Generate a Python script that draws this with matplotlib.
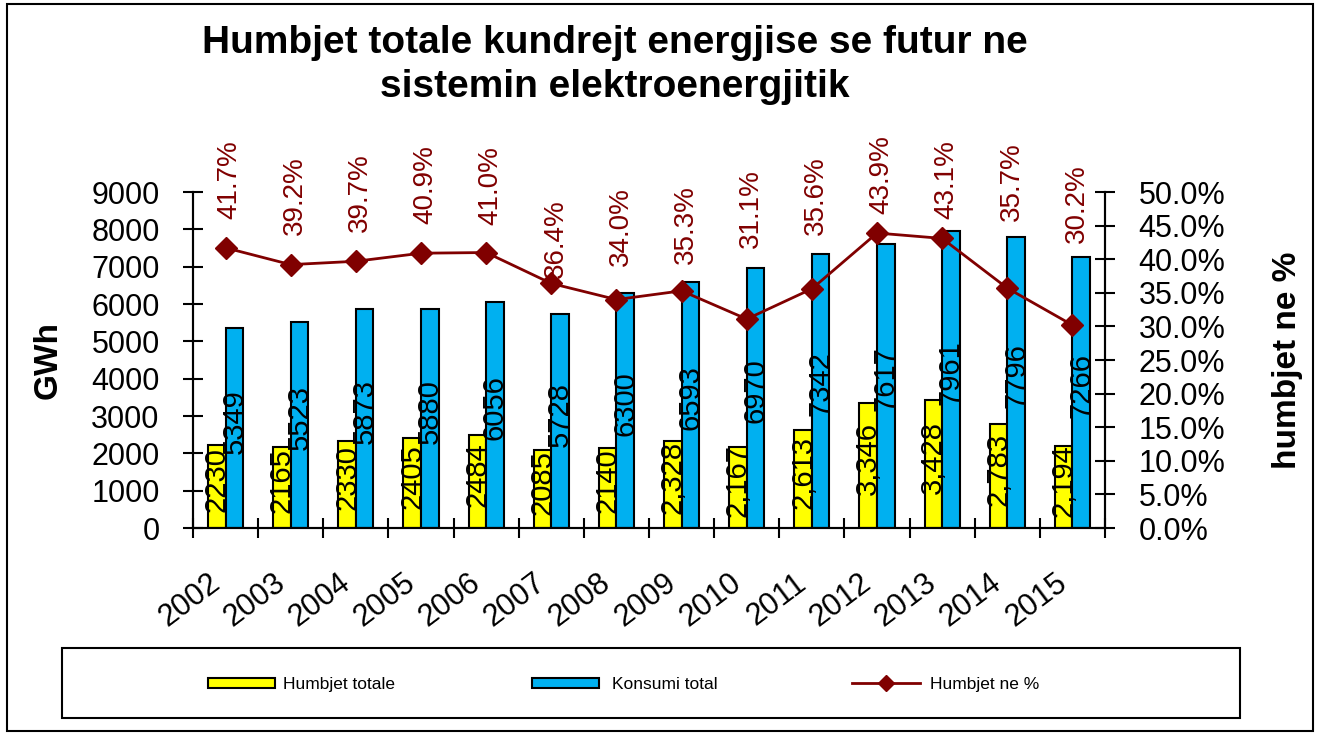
import numpy as np
import matplotlib
matplotlib.use("Agg")
import matplotlib.pyplot as plt
from matplotlib.patches import Rectangle
from matplotlib.lines import Line2D

plt.rcParams['font.family'] = ['Liberation Sans', 'DejaVu Sans']

# ---------- data ----------
years = ['2002', '2003', '2004', '2005', '2006', '2007', '2008',
         '2009', '2010', '2011', '2012', '2013', '2014', '2015']
humbjet = [2230, 2165, 2330, 2405, 2484, 2085, 2140,
           2328, 2167, 2613, 3346, 3428, 2783, 2194]
konsumi = [5349, 5523, 5873, 5880, 6056, 5728, 6300,
           6593, 6970, 7342, 7617, 7961, 7796, 7266]
humbjet_pct = [41.7, 39.2, 39.7, 40.9, 41.0, 36.4, 34.0,
               35.3, 31.1, 35.6, 43.9, 43.1, 35.7, 30.2]
# later years were entered with a thousands separator
humbjet_lbl = [f"{v}" if i < 7 else f"{v:,}" for i, v in enumerate(humbjet)]

# how far (points) each percentage label sits above its marker
pct_lift = [21, 21, 21, 21, 20, 4, 24, 19, 51, 39, 14, 14, 48, 59]

YELLOW = '#FFFF00'
BLUE = '#00B0F0'
RED = '#800000'

W, H = 1321, 735
fig = plt.figure(figsize=(W / 100, H / 100), dpi=100)
ax = fig.add_axes([0.1461, 0.2816, 0.6904, 0.4571])
ax2 = ax.twinx()

x = np.arange(len(years))
w = 0.27

ax.bar(x - w / 2, humbjet, w, color=YELLOW, edgecolor='black', linewidth=1.5, zorder=2)
ax.bar(x + w / 2, konsumi, w, color=BLUE, edgecolor='black', linewidth=1.5, zorder=2)

for xi, v, s in zip(x, humbjet, humbjet_lbl):
    ax.annotate(s, (xi - w / 2, v / 2), xytext=(0, 5), textcoords='offset points',
                rotation=90, ha='center', va='center', fontsize=21, zorder=3)
for xi, v in zip(x, konsumi):
    ax.annotate(f"{v}", (xi + w / 2, v / 2), xytext=(0, 5), textcoords='offset points',
                rotation=90, ha='center', va='center', fontsize=21, zorder=3)

ax.set_xlim(-0.5, len(years) - 0.5)
ax.set_ylim(0, 9000)
ax.set_yticks(np.arange(0, 9001, 1000))
# tick marks sit between the years, labels on the year centres
ax.set_xticks(np.arange(-0.5, len(years), 1), minor=False)
ax.set_xticklabels([])
ax.set_xticks(x, minor=True)
ax.set_xticklabels(years, minor=True, rotation=37, ha='right', va='bottom',
                   rotation_mode='anchor', fontsize=22)
ax.tick_params(axis='x', which='minor', length=0, pad=46)
ax.tick_params(axis='x', which='major', direction='inout', length=14, width=1.5)
ax.tick_params(axis='y', direction='inout', length=14, width=1.5, labelsize=22, pad=17)
ax.set_ylabel('GWh', fontsize=24, fontweight='bold', labelpad=20)

# ---------- percentage line ----------
ax2.plot(x, humbjet_pct, color=RED, lw=2, marker='D', markersize=11, zorder=4)
for xi, p, lift in zip(x, humbjet_pct, pct_lift):
    ax2.annotate(f"{p:.1f}%", (xi, p), xytext=(3, lift), textcoords='offset points',
                 rotation=90, ha='center', va='bottom', fontsize=20, color=RED,
                 annotation_clip=False)
ax2.set_ylim(0, 50)
ax2.set_yticks(np.arange(0, 50.1, 5))
ax2.set_yticklabels([f"{t:.1f}%" for t in np.arange(0, 50.1, 5)])
ax2.tick_params(axis='y', direction='inout', length=14, width=1.5, labelsize=22, pad=17)
ax2.set_ylabel('humbjet ne %', fontsize=24, fontweight='bold', labelpad=34)

for a in (ax, ax2):
    a.spines['top'].set_visible(False)
    for s in ('left', 'right', 'bottom'):
        a.spines[s].set_linewidth(1.5)

fig.text(0.4655, 0.9116,
         "Humbjet totale kundrejt energjise se futur ne\nsistemin elektroenergjitik",
         ha='center', va='center', fontsize=28, fontweight='bold', linespacing=1.3)

# ---------- legend (drawn by hand so the three texts share one baseline) ----------
ly = 1 - 683 / H          # centre line of the legend row
base = 1 - 689 / H        # text baseline
leg_labels = ['Humbjet totale', 'Konsumi total', 'Humbjet ne %']
for col, x0 in zip([YELLOW, BLUE], [208, 532]):
    fig.patches.append(Rectangle((x0 / W, ly - 5 / H), 67 / W, 10 / H,
                                 transform=fig.transFigure, facecolor=col,
                                 edgecolor='black', lw=1.5))
fig.add_artist(Line2D([852 / W, 920 / W], [ly, ly], color=RED, lw=2,
                      transform=fig.transFigure))
fig.add_artist(Line2D([886 / W], [ly], color=RED, marker='D', markersize=8,
                      transform=fig.transFigure))
for lab, tx in zip(leg_labels, [283, 612, 930]):
    fig.text(tx / W, base, lab, fontsize=12.5, va='baseline', ha='left')

fig.patches.append(Rectangle((62 / W, 1 - 718 / H), (1240 - 62) / W, 70 / H,
                             transform=fig.transFigure, fill=False, lw=1.5,
                             edgecolor='black'))

# outer frame
fig.patches.append(Rectangle((7 / W, 4 / H), (1313 - 7) / W, (731 - 4) / H,
                             transform=fig.transFigure, fill=False, lw=1.5,
                             edgecolor='black'))

fig.savefig('out.png', dpi=100)
